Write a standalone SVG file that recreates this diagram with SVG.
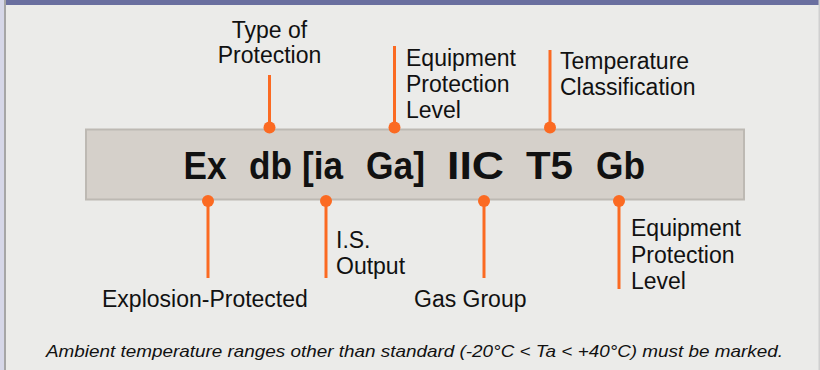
<svg xmlns="http://www.w3.org/2000/svg" width="820" height="370" viewBox="0 0 820 370">
<defs>
<style>
.lbl{font-family:"Liberation Sans",Arial,sans-serif;font-size:23px;fill:#111}
.code{font-family:"Liberation Sans",Arial,sans-serif;font-size:39px;font-weight:bold;fill:#111}
.note{font-family:"Liberation Sans",Arial,sans-serif;font-size:17px;font-style:italic;fill:#111}
.ln{stroke:#fb6a22;stroke-width:3;fill:none}
.dot{fill:#fb6a22}
</style>
</defs>
<rect x="0" y="0" width="820" height="370" fill="#ebebe9"/>
<rect x="0" y="0" width="4" height="370" fill="#d6d7e8"/>
<rect x="4" y="0" width="2" height="370" fill="#a6a6a6"/>
<rect x="6" y="0" width="813" height="5" fill="#6a6f9f"/>
<rect x="818.5" y="0" width="1.5" height="370" fill="#d0d0d0"/>

<g id="code-box">
<rect x="86" y="129.5" width="658" height="70" fill="#d5d0ca" stroke="#bdb9b3" stroke-width="2"/>
<text class="code" x="183.5" y="179" textLength="43" lengthAdjust="spacingAndGlyphs">Ex</text>
<text class="code" x="249" y="179" textLength="43" lengthAdjust="spacingAndGlyphs">db</text>
<text class="code" x="302" y="179" textLength="41" lengthAdjust="spacingAndGlyphs">[ia</text>
<text class="code" x="366" y="179" textLength="59" lengthAdjust="spacingAndGlyphs">Ga]</text>
<text class="code" x="447" y="179" textLength="57" lengthAdjust="spacingAndGlyphs">IIC</text>
<text class="code" x="526" y="179" textLength="47" lengthAdjust="spacingAndGlyphs">T5</text>
<text class="code" x="596" y="179" textLength="49" lengthAdjust="spacingAndGlyphs">Gb</text>
</g>

<g id="connectors">
<line class="ln" x1="269.5" y1="75" x2="269.5" y2="127"/>
<circle class="dot" cx="269.5" cy="127.5" r="6"/>
<line class="ln" x1="394.5" y1="46" x2="394.5" y2="127"/>
<circle class="dot" cx="394.5" cy="127.5" r="6"/>
<line class="ln" x1="550" y1="50" x2="550" y2="127"/>
<circle class="dot" cx="550" cy="127.5" r="6"/>
<line class="ln" x1="208" y1="201" x2="208" y2="278"/>
<circle class="dot" cx="208" cy="201" r="6"/>
<line class="ln" x1="326" y1="201" x2="326" y2="278"/>
<circle class="dot" cx="326" cy="201" r="6"/>
<line class="ln" x1="484" y1="201" x2="484" y2="278"/>
<circle class="dot" cx="484" cy="201" r="6"/>
<line class="ln" x1="619" y1="201" x2="619" y2="289"/>
<circle class="dot" cx="619" cy="201" r="6"/>
</g>

<g id="type-of-protection">
<text class="lbl" x="269.5" y="38" text-anchor="middle">Type of</text>
<text class="lbl" x="269.5" y="63" text-anchor="middle">Protection</text>
</g>
<g id="epl-top">
<text class="lbl" x="406" y="66">Equipment</text>
<text class="lbl" x="406" y="92">Protection</text>
<text class="lbl" x="406" y="118">Level</text>
</g>
<g id="temperature-classification">
<text class="lbl" x="560" y="69">Temperature</text>
<text class="lbl" x="560" y="95">Classification</text>
</g>
<g id="explosion-protected">
<text class="lbl" x="102" y="307">Explosion-Protected</text>
</g>
<g id="is-output">
<text class="lbl" x="336" y="248">I.S.</text>
<text class="lbl" x="336" y="274">Output</text>
</g>
<g id="gas-group">
<text class="lbl" x="414" y="307">Gas Group</text>
</g>
<g id="epl-bottom">
<text class="lbl" x="631" y="236">Equipment</text>
<text class="lbl" x="631" y="263">Protection</text>
<text class="lbl" x="631" y="289">Level</text>
</g>
<g id="note">
<text class="note" x="414.5" y="357" text-anchor="middle" textLength="737" lengthAdjust="spacingAndGlyphs">Ambient temperature ranges other than standard (-20°C &lt; Ta &lt; +40°C) must be marked.</text>
</g>
</svg>
